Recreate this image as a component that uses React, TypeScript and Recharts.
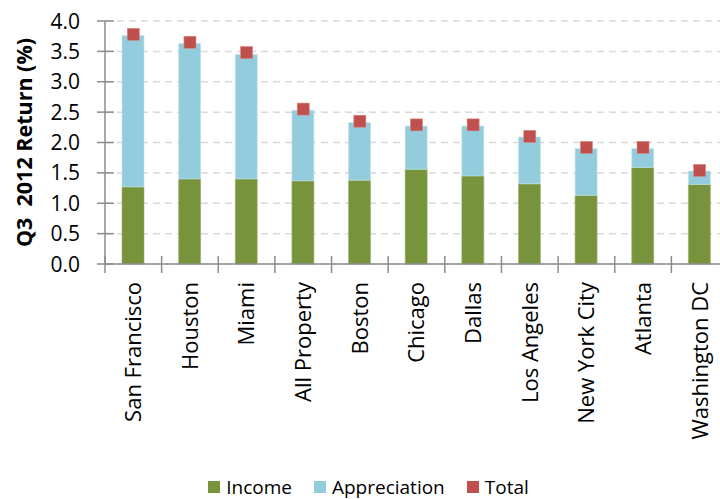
import React from "react";
import {
  ComposedChart,
  Bar,
  Line,
  XAxis,
  YAxis,
  CartesianGrid,
  Legend,
} from "recharts";

const categories = [
  "San Francisco",
  "Houston",
  "Miami",
  "All Property",
  "Boston",
  "Chicago",
  "Dallas",
  "Los Angeles",
  "New York City",
  "Atlanta",
  "Washington DC",
];
const income = [1.27, 1.4, 1.4, 1.37, 1.38, 1.56, 1.45, 1.32, 1.13, 1.59, 1.31];
const appreciation = [2.49, 2.23, 2.05, 1.16, 0.95, 0.71, 0.82, 0.77, 0.77, 0.31, 0.22];
const total = [3.78, 3.65, 3.48, 2.55, 2.35, 2.29, 2.29, 2.1, 1.92, 1.92, 1.54];
const yTicks = [0, 0.5, 1, 1.5, 2, 2.5, 3, 3.5, 4];

const data = categories.map((name, i) => ({
  pos: i + 0.5,
  name,
  income: income[i],
  appreciation: appreciation[i],
  total: total[i],
}));

// boundaries (integers) get tick marks, centres (halves) get labels
const xTicks: number[] = [];
for (let i = 0; i <= categories.length * 2; i++) xTicks.push(i / 2);

const COLORS = {
  income: "#77933C",
  appreciation: "#93CDDD",
  total: "#C0504D",
  axis: "#8C8C8C",
  grid: "#D9D9D9",
};
const FONT = "'Open Sans', Lato, sans-serif";
const LEGEND_H = 26;

const XTick = (props: any) => {
  const { x, y, payload } = props;
  const v = payload.value as number;
  if (Number.isInteger(v)) {
    return (
      <line x1={x} x2={x} y1={y - 8} y2={y + 9} stroke={COLORS.axis} strokeWidth={1.5} />
    );
  }
  const name = categories[Math.floor(v)];
  return (
    <text
      x={x}
      y={y + 18}
      transform={`rotate(-90, ${x}, ${y + 18})`}
      textAnchor="end"
      dy="0.36em"
      fontFamily={FONT}
      fontSize={22}
      fill="#000"
    >
      {name}
    </text>
  );
};

const YTick = (props: any) => {
  const { x, y, payload } = props;
  return (
    <g>
      <line x1={x + 17} x2={x + 34} y1={y} y2={y} stroke={COLORS.axis} strokeWidth={1.5} />
      <text
        x={x}
        y={y}
        dy="0.36em"
        textAnchor="end"
        fontFamily={FONT}
        fontSize={21}
        fill="#000"
      >
        {(payload.value as number).toFixed(1)}
      </text>
    </g>
  );
};

const YTitle = (props: any) => {
  const { viewBox } = props;
  const cx = 24;
  const cy = viewBox.y + viewBox.height / 2;
  return (
    <text
      x={cx}
      y={cy}
      transform={`rotate(-90, ${cx}, ${cy})`}
      textAnchor="middle"
      dy="0.36em"
      fontFamily={FONT}
      fontWeight="bold"
      fontSize={21.5}
      fill="#000"
      style={{ whiteSpace: "pre" }}
    >
      {"Q3  2012 Return (%)"}
    </text>
  );
};

const TotalDot = (props: any) => {
  const { cx, cy, index } = props;
  if (cx == null || cy == null) return <g key={`d${index}`} />;
  return (
    <rect
      key={`d${index}`}
      x={cx - 6}
      y={cy - 6}
      width={12}
      height={12}
      fill={COLORS.total}
      stroke="#D88784"
      strokeWidth={0.6}
    />
  );
};

const legendItems = [
  { label: "Income", color: COLORS.income },
  { label: "Appreciation", color: COLORS.appreciation },
  { label: "Total", color: COLORS.total },
];

const LegendContent = () => (
  <div
    style={{
      display: "flex",
      justifyContent: "center",
      alignItems: "center",
      height: LEGEND_H,
      fontFamily: FONT,
      fontSize: 19,
      color: "#000",
      gap: 22,
      paddingTop: 2,
      boxSizing: "border-box",
    }}
  >
    {legendItems.map((it) => (
      <div key={it.label} style={{ display: "flex", alignItems: "center", gap: 6 }}>
        <span style={{ width: 12, height: 12, background: it.color, display: "inline-block" }} />
        <span style={{ lineHeight: "22px", whiteSpace: "nowrap" }}>{it.label}</span>
      </div>
    ))}
  </div>
);

export default function App() {
  return (
    <div
      style={{
        position: "absolute",
        left: 0,
        top: 0,
        width: 720,
        height: 499,
        overflow: "hidden",
        background: "#fff",
      }}
    >
      <ComposedChart
        width={740}
        height={499}
        data={data}
        margin={{ top: 21, right: 12, bottom: 0, left: 0 }}
      >
        <CartesianGrid
          horizontal
          vertical={false}
          stroke={COLORS.grid}
          strokeWidth={1.5}
          strokeDasharray="7 5"
        />
        <XAxis
          dataKey="pos"
          type="number"
          domain={[0, categories.length]}
          ticks={xTicks}
          interval={0}
          tick={<XTick />}
          tickLine={false}
          tickSize={0}
          tickMargin={0}
          axisLine={{ stroke: COLORS.axis, strokeWidth: 1.5 }}
          height={499 - 21 - 243 - LEGEND_H}
          allowDecimals
        />
        <YAxis
          domain={[0, 4]}
          ticks={yTicks}
          interval={0}
          width={105}
          tick={<YTick />}
          tickLine={false}
          tickSize={0}
          tickMargin={25}
          axisLine={{ stroke: COLORS.axis, strokeWidth: 1.5 }}
          label={<YTitle />}
        />
        <Legend
          verticalAlign="bottom"
          content={<LegendContent />}
          wrapperStyle={{ left: 0, width: 737, height: LEGEND_H, bottom: 0 }}
        />
        <Bar
          dataKey="income"
          stackId="a"
          fill={COLORS.income}
          barSize={22}
          stroke="#9DB36E"
          strokeWidth={0.6}
          isAnimationActive={false}
        />
        <Bar
          dataKey="appreciation"
          stackId="a"
          fill={COLORS.appreciation}
          barSize={22}
          stroke="#C4E4EC"
          strokeWidth={0.6}
          isAnimationActive={false}
        />
        <Line
          dataKey="total"
          stroke="none"
          dot={TotalDot}
          activeDot={false}
          isAnimationActive={false}
        />
      </ComposedChart>
    </div>
  );
}
